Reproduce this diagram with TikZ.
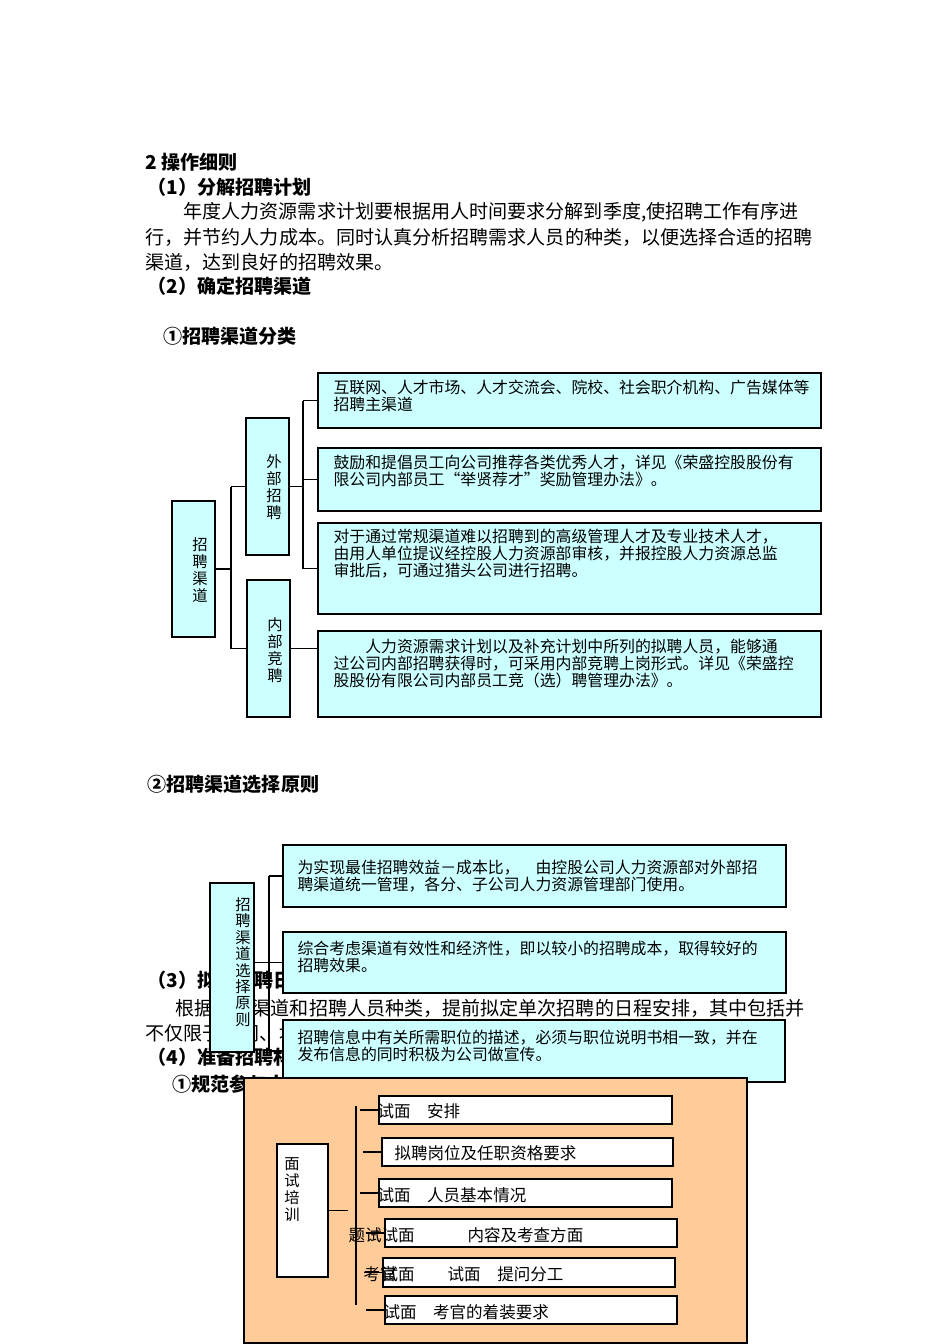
\documentclass[tikz,border=0pt]{standalone}
\usepackage{fontspec}
\setmainfont{Noto Sans CJK SC}
\usetikzlibrary{shadows}
\definecolor{boxcyan}{RGB}{204,255,255}
\definecolor{boxorange}{RGB}{255,204,153}

\begin{document}
\begin{tikzpicture}[x=0.75pt, y=-0.75pt, line width=0.8pt,
    head/.style={anchor=west, inner sep=0pt, font=\fontsize{14.3}{16}\selectfont\bfseries},
    body/.style={anchor=west, inner sep=0pt, font=\fontsize{14.3}{16}\selectfont},
    panel/.style 2 args={draw, inner sep=0pt, minimum width=#1*0.75pt, minimum height=#2*0.75pt,
        drop shadow={shadow xshift=0.9pt, shadow yshift=-0.9pt, fill=black!75, opacity=1}},
    cbox/.style 2 args={panel={#1}{#2}, fill=boxcyan},
    wbox/.style 2 args={panel={#1}{#2}, fill=white},
    btext/.style={anchor=north west, inner sep=0pt, align=left, font=\fontsize{11.9}{12.75}\selectfont},
    vtext/.style={inner sep=0pt, align=center, font=\fontsize{11.5}{12.75}\selectfont},
    itext/.style={anchor=west, inner sep=0pt, font=\fontsize{12.4}{14}\selectfont}]
    \useasboundingbox (0,0) rectangle (950,1344);

    \node[head] (h0) at (145,162) {2 操作细则};
    \node[head] (h1) at (147,187) {（1）分解招聘计划};
    \node[body] (p1) at (183,212) {年度人力资源需求计划要根据用人时间要求分解到季度,使招聘工作有序进};
    \node[body] (p2) at (145,237) {行，并节约人力成本。同时认真分析招聘需求人员的种类，以便选择合适的招聘};
    \node[body] (p3) at (145,262) {渠道，达到良好的招聘效果。};
    \node[head] (h2) at (147,286) {（2）确定招聘渠道};
    \node[head] (h3) at (163,336) {①招聘渠道分类};
    \node[head] (h4) at (147,784) {②招聘渠道选择原则};
    \node[head] (h5) at (147,980) {（3）拟定招聘日程};
    \node[body] (p4) at (175,1008) {根据招聘渠道和招聘人员种类，提前拟定单次招聘的日程安排，其中包括并};
    \node[body] (p5) at (145,1033) {不仅限于时间、地点、参与人员、招聘岗位、人数、方式及费用预算等内容。};
    \node[head] (h6) at (147,1057) {（4）准备招聘材料};
    \node[head] (h7) at (172,1084) {①规范参与人员的材料};

    \node[cbox={43}{136}] (qd) at (193.5,569) {};
    \node[vtext] (qdt) at (200,570) {招\\聘\\渠\\道};
    \node[cbox={43}{137}] (wb) at (267.5,486.5) {};
    \node[vtext] (wbt) at (274,487) {外\\部\\招\\聘};
    \node[cbox={43}{137}] (nb) at (268.5,648.5) {};
    \node[vtext] (nbt) at (275,650) {内\\部\\竞\\聘};

    \node[cbox={503}{55}] (c1) at (569.5,400.5) {};
    \node[cbox={503}{63}] (c2) at (569.5,479.5) {};
    \node[cbox={503}{91}] (c3) at (569.5,568.5) {};
    \node[cbox={503}{86}] (c4) at (569.5,674) {};
    \node[btext] (c1t) at (333,379) {互联网、人才市场、人才交流会、院校、社会职介机构、广告媒体等\\招聘主渠道};
    \node[btext] (c2t) at (333,455) {鼓励和提倡员工向公司推荐各类优秀人才，详见《荣盛控股股份有\\限公司内部员工“举贤荐才”奖励管理办法》。};
    \node[btext] (c3t) at (333,529) {对于通过常规渠道难以招聘到的高级管理人才及专业技术人才，\\由用人单位提议经控股人力资源部审核，并报控股人力资源总监\\审批后，可通过猎头公司进行招聘。};
    \node[btext] (c4t) at (333,639) {　　人力资源需求计划以及补充计划中所列的拟聘人员，能够通\\过公司内部招聘获得时，可采用内部竞聘上岗形式。详见《荣盛控\\股股份有限公司内部员工竞（选）聘管理办法》。};

    \coordinate (j1) at (231,569);
    \draw (qd.east) -- (j1);
    \draw (j1 |- wb.west) -- (j1 |- nb.west);
    \draw (j1 |- wb.west) -- (wb.west);
    \draw (j1 |- nb.west) -- (nb.west);
    \coordinate (j2) at (303,486.5);
    \draw (wb.east) -- (j2);
    \draw (j2 |- c1.west) -- (j2 |- c3.west);
    \foreach \c in {c1,c2,c3}
        \draw (j2 |- \c.west) -- (\c.west);
    \draw (nb.east) -- (nb.east -| c4.west);

    \node[cbox={44}{169}] (yz) at (232,967.5) {};
    \node[vtext, font=\fontsize{11.5}{12.3}\selectfont] (yzt) at (243,962) {招\\聘\\渠\\道\\选\\择\\原\\则};
    \node[cbox={503}{62}] (y1) at (534.5,876) {};
    \node[cbox={503}{61}] (y2) at (534.5,962.5) {};
    \node[cbox={502}{62}] (y3) at (534,1051) {};
    \node[btext] (y1t) at (297,860) {为实现最佳招聘效益－成本比，　由控股公司人力资源部对外部招\\聘渠道统一管理，各分、子公司人力资源管理部门使用。};
    \node[btext] (y2t) at (297,941) {综合考虑渠道有效性和经济性，即以较小的招聘成本，取得较好的\\招聘效果。};
    \node[btext] (y3t) at (297,1029) {招聘信息中有关所需职位的描述，必须与职位说明书相一致，并在\\发布信息的同时积极为公司做宣传。};
    \draw (yz.east |- y2.west) -- (y2.west);
    \coordinate (j3) at (269,876);
    \draw (j3 |- y1.west) -- (j3 |- y3.west);
    \foreach \c in {y1,y3}
        \draw (j3 |- \c.west) -- (\c.west);

    \node[panel={503}{265}, fill=boxorange] (ob) at (495.5,1210.5) {};
    \node[wbox={51}{133}] (ms) at (302.5,1210.5) {};
    \node[vtext] (mst) at (292,1190) {面\\试\\培\\训};
    \node[wbox={293}{28}] (i1) at (525.5,1110) {};
    \node[wbox={291}{28}] (i2) at (527.5,1152) {};
    \node[wbox={293}{28}] (i3) at (525.5,1193) {};
    \node[wbox={292}{28}] (i4) at (531,1233) {};
    \node[wbox={292}{29}] (i5) at (529,1272.5) {};
    \node[wbox={292}{28}] (i6) at (531,1310) {};
    \coordinate (bt) at (356,1106);
    \coordinate (bb) at (356,1305);
    \draw (bt) -- (bb);
    \draw (ms.east) -- ++(19,0) coordinate (me);
    \foreach \i in {i1,i2,i3,i4,i5,i6}
        \draw (\i.west) -- ++(-18,0);
    \node[itext] (t1) at (377,1111) {试面\hspace{1em}安排};
    \node[itext] (t2) at (394,1153) {拟聘岗位及任职资格要求};
    \node[itext] (t3) at (377,1195) {试面\hspace{1em}人员基本情况};
    \node[itext] (t4) at (348,1235) {题试试面\hspace{3.2em}内容及考查方面};
    \node[itext] (t5a) at (363,1274) {考官};
    \node[itext] (t5b) at (381,1274) {试面\hspace{2em}试面\hspace{1em}提问分工};
    \node[itext] (t6) at (383,1312) {试面\hspace{1em}考官的着装要求};
\end{tikzpicture}
\end{document}
